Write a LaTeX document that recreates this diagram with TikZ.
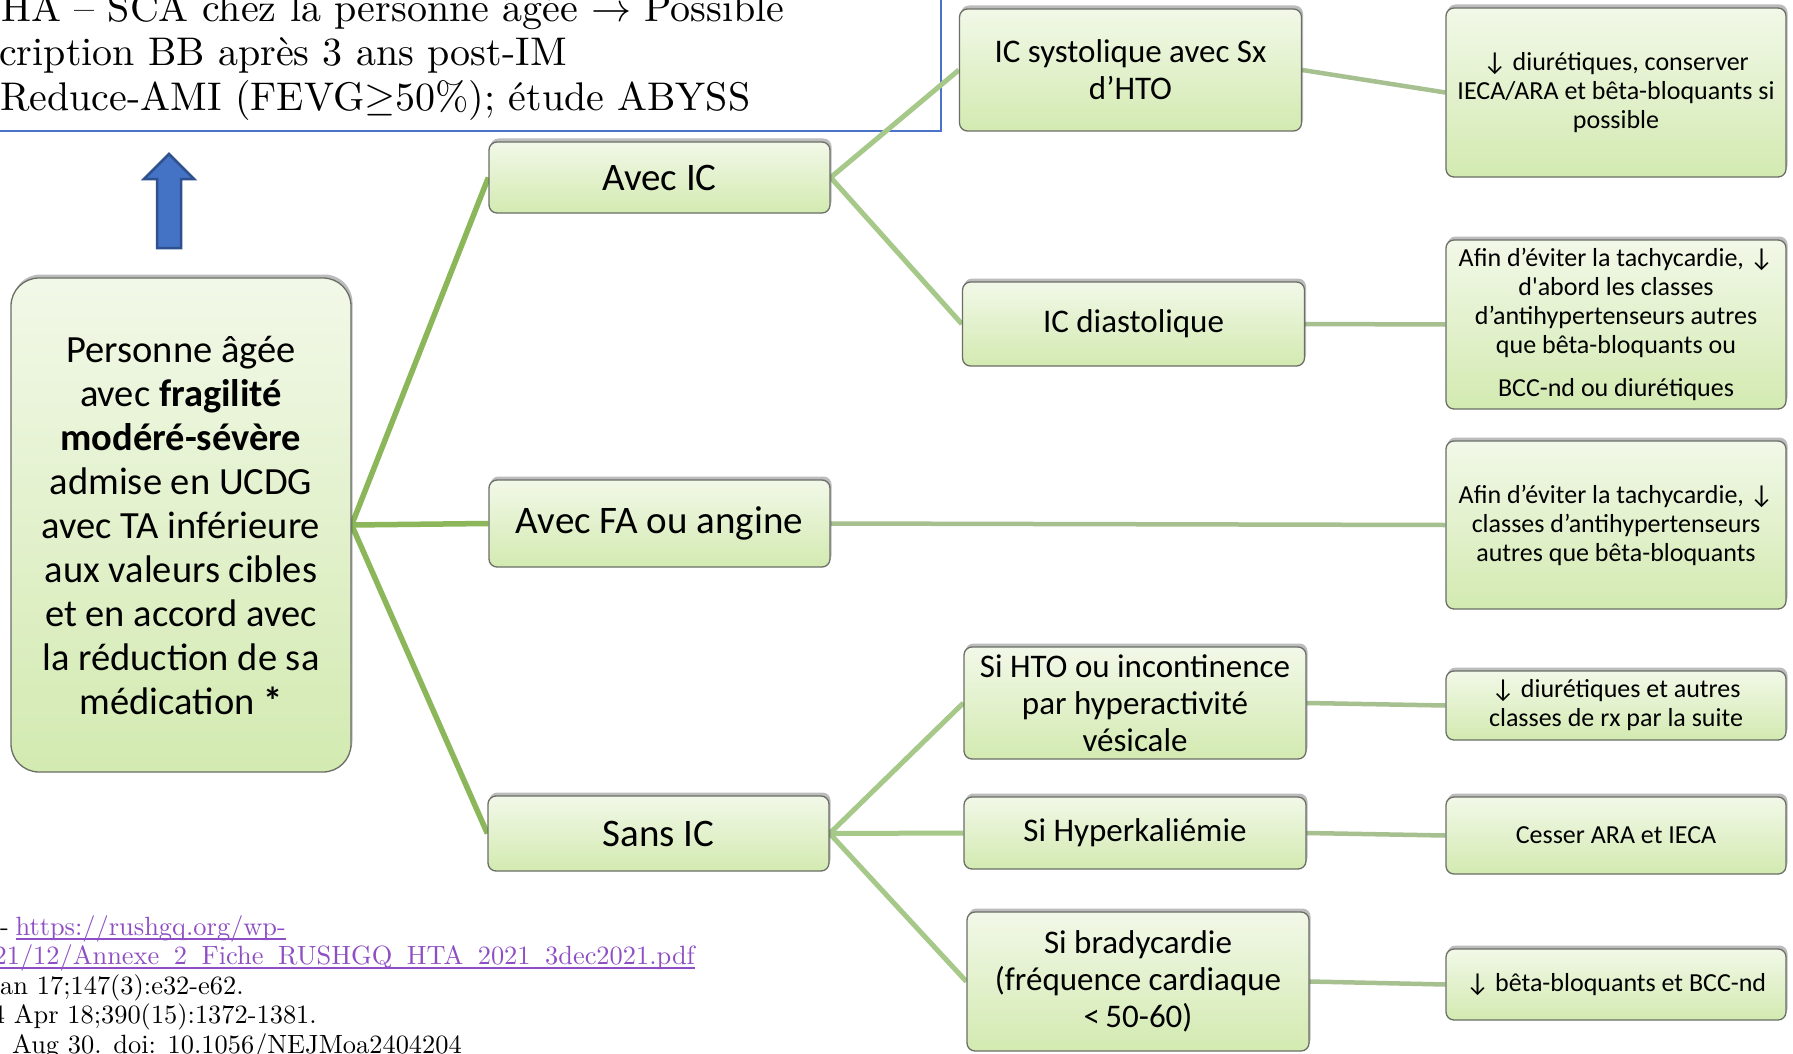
\RequirePackage{fix-cm}
\documentclass[tikz,border=0pt]{standalone}
\usepackage{fontspec}
\newfontfamily\boxfont{Carlito}
\newfontfamily\notefont{lmroman10-regular}[Extension=.otf]
\usetikzlibrary{shadows}
\pgfdeclarelayer{background}
\pgfsetlayers{background,main}

\definecolor{boxtop}{HTML}{F2F8E8}
\definecolor{boxbot}{HTML}{D3EAB1}
\definecolor{boxline}{HTML}{6A6E66}
\definecolor{linkA}{HTML}{8BB65A}
\definecolor{linkB}{HTML}{A6C888}
\definecolor{linkC}{HTML}{A7C090}
\definecolor{arrowfill}{HTML}{4472C4}
\definecolor{arrowline}{HTML}{2F528F}
\definecolor{noteframe}{HTML}{4A72C8}
\definecolor{url}{HTML}{8F4FC4}

% underlined link text with a thicker rule
\newcommand\weblink[1]{\textcolor{url}{\setbox0\hbox{#1}\rlap{\rule[-4.5pt]{\wd0}{2pt}}\box0}}
% underscore inside a link, merged with the underline
\newcommand\linkus{\rule[-4.5pt]{0.55em}{2pt}}

\tikzset{
  gbox/.style={draw=boxline, line width=1.3, rounded corners=8,
    top color=boxtop, bottom color=boxbot,
    drop shadow={shadow xshift=1.5, shadow yshift=-3.5, opacity=.35, fill=black!75},
    align=center, inner sep=0, font=\boxfont},
  lvlone/.style={gbox, minimum width=341, font=\boxfont\fontsize{39}{44}\selectfont},
  lvltwo/.style={gbox, minimum width=342, font=\boxfont\fontsize{33}{37}\selectfont},
  action/.style={gbox, minimum width=340, font=\boxfont\fontsize{26}{29}\selectfont},
  wireA/.style={draw=linkA, line width=5.5},
  wireB/.style={draw=linkB, line width=5},
  wireC/.style={draw=linkC, line width=4.5},
  noteline/.style={anchor=base west, inner sep=0, font=\notefont\fontsize{40}{45}\selectfont},
  refline/.style={anchor=base west, inner sep=0, font=\notefont\fontsize{26.4}{29.5}\selectfont},
}

\begin{document}
\begin{tikzpicture}[x=1pt,y=-1pt]
\useasboundingbox (0,0) rectangle (1793,1054);
\clip (0,0) rectangle (1793,1054);

% note in the upper left corner
\node[noteline] (n1) at (1,22) {HA – SCA chez la personne âgée $\rightarrow$ Possible};
\node[noteline] (n2) at (-1,66) {cription BB après 3 ans post-IM};
\node[noteline] (n3) at (0,111) {Reduce-AMI (FEVG$\geq$50\%); étude ABYSS};

% block arrow pointing up to the note
\filldraw[fill=arrowfill, draw=arrowline, line width=2.5, line join=miter]
  (157,248) -- (157,179) -- (144,179) -- (169,154) -- (194,179) -- (181,179) -- (181,248) -- cycle;

% starting situation
\node[gbox, rounded corners=28, minimum width=340, minimum height=494,
      font=\boxfont\fontsize{38.5}{44}\selectfont] (root) at (181,525)
  {Personne âgée\\ avec \textbf{fragilité}\\ \textbf{modéré-sévère}\\ admise en UCDG\\
   avec TA inférieure\\ aux valeurs cibles\\ et en accord avec\\ la réduction de sa\\
   médication \textbf{*}};

% first split
\node[lvlone, minimum height=71] (avecIC) at (659.5,177.5) {Avec IC};
\node[lvlone, minimum height=87] (avecFA) at (659.5,523.5) {Avec FA ou angine};
\node[lvlone, minimum height=75] (sansIC) at (658.5,833.5) {Sans IC};

% second split
\node[lvltwo, minimum height=122] (icsys) at (1130.5,70) {IC systolique avec Sx\\ d’HTO};
\node[lvltwo, minimum height=84] (icdia) at (1133.5,324) {IC diastolique};
\node[lvltwo, minimum height=112] (hto) at (1135,703) {Si HTO ou incontinence\\ par hyperactivité\\ vésicale};
\node[lvltwo, minimum height=72] (hyper) at (1135,833) {Si Hyperkaliémie};
\node[lvltwo, minimum height=139] (brady) at (1138,981.5) {Si bradycardie\\ (fréquence cardiaque\\ <\,50-60)};

% recommended actions
\node[action, minimum height=169] (r1) at (1616,92.5)
  {↓ diurétiques, conserver\\ IECA/ARA et bêta-bloquants si\\ possible};
\node[action, minimum height=169] (r2) at (1616,324.5)
  {Afin d’éviter la tachycardie, ↓\\ d'abord les classes\\ d’antihypertenseurs autres\\ que bêta-bloquants ou\\[14pt] BCC-nd ou diurétiques};
\node[action, minimum height=168] (r3) at (1616,525)
  {Afin d’éviter la tachycardie, ↓\\ classes d’antihypertenseurs\\ autres que bêta-bloquants};
\node[action, minimum height=69] (r4) at (1616,705.5)
  {↓ diurétiques et autres\\ classes de rx par la suite};
\node[action, minimum height=77] (r5) at (1616,835.5) {Cesser ARA et IECA};
\node[action, minimum height=71] (r6) at (1616,984.5) {↓ bêta-bloquants et BCC-nd};

% frame of the note and the connectors, behind the boxes
\begin{pgfonlayer}{background}
  \fill[white] (0,0) rectangle (1793,1054);
  \draw[noteframe, line width=1.4] (-10,-10) rectangle (941,131);
  \draw[wireA] (root.east) -- (avecIC.west);
  \draw[wireA] (root.east) -- (avecFA.west);
  \draw[wireA] (root.east) -- (sansIC.west);
  \draw[wireB] (avecIC.east) -- (icsys.west);
  \draw[wireB] (avecIC.east) -- (icdia.west);
  \draw[wireB] (sansIC.east) -- (hto.west);
  \draw[wireB] (sansIC.east) -- (hyper.west);
  \draw[wireB] (sansIC.east) -- (brady.west);
  \draw[wireC] (icsys.east) -- (r1.west);
  \draw[wireC] (icdia.east) -- (r2.west);
  \draw[wireC] (avecFA.east) -- (r3.west);
  \draw[wireC] (hto.east) -- (r4.west);
  \draw[wireC] (hyper.east) -- (r5.west);
  \draw[wireC] (brady.east) -- (r6.west);
\end{pgfonlayer}

% references in the lower left corner
\node[refline] (f1) at (0,935) {-\hspace{0.25em}\weblink{https://rushgq.org/wp-}};
\node[refline, anchor=base east] (f2) at (695,964)
  {\weblink{2021/12/Annexe\linkus 2\linkus Fiche\linkus RUSHGQ\linkus HTA\linkus 2021\linkus 3dec2021.pdf}};
\node[refline] (f3) at (0,994) {an 17;147(3):e32-e62.};
\node[refline] (f4) at (-48,1023) {2024 Apr 18;390(15):1372-1381.};
\node[refline] (f5) at (12,1053) {Aug 30. doi: 10.1056/NEJMoa2404204};
\end{tikzpicture}
\end{document}
